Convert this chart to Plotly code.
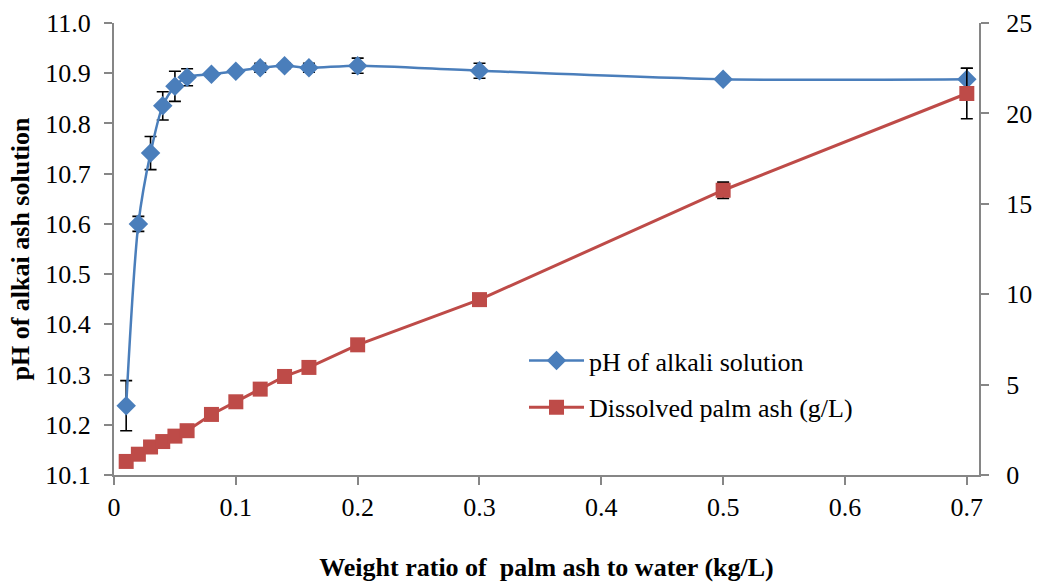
import plotly.graph_objects as go

ratio = [0.01, 0.02, 0.03, 0.04, 0.05, 0.06, 0.08, 0.10, 0.12, 0.14, 0.16, 0.20, 0.30, 0.50, 0.70]
ph = [10.238, 10.600, 10.741, 10.835, 10.874, 10.892, 10.898, 10.904, 10.911, 10.915, 10.911, 10.915, 10.905, 10.888, 10.888]
ph_err = [0.050, 0.015, 0.033, 0.028, 0.030, 0.017, 0.004, 0.005, 0.009, 0.006, 0.009, 0.015, 0.015, 0.004, 0.022]
ash = [0.75, 1.15, 1.55, 1.85, 2.15, 2.45, 3.35, 4.05, 4.75, 5.45, 5.95, 7.20, 9.70, 15.75, 21.10]
ash_err = [0.05, 0.05, 0.05, 0.05, 0.05, 0.05, 0.05, 0.05, 0.05, 0.05, 0.05, 0.10, 0.30, 0.45, 1.40]

BLUE = "#4A7EBB"
RED = "#BE4B48"
AX = "#868686"
FONT = "Liberation Serif"
FS = 26

fig = go.Figure()
fig.add_trace(go.Scatter(
    x=ratio, y=ph, name="pH of alkali solution", mode="lines+markers",
    line=dict(color=BLUE, width=2.5, shape="spline", smoothing=0.8),
    marker=dict(symbol="diamond", size=15, color=BLUE),
    error_y=dict(type="data", array=ph_err, color="black", thickness=1.6, width=6),
    legendgroup="a", yaxis="y",
))
fig.add_trace(go.Scatter(
    x=ratio, y=ash, name="Dissolved palm ash (g/L)", mode="lines+markers",
    line=dict(color=RED, width=3),
    marker=dict(symbol="square", size=15, color=RED),
    error_y=dict(type="data", array=ash_err, color="black", thickness=1.6, width=6),
    legendgroup="b", yaxis="y2",
))


def axcommon(standoff=0):
    return dict(showline=True, linecolor=AX, linewidth=2, ticks="outside",
                tickcolor=AX, ticklen=8, tickwidth=2, showgrid=False, zeroline=False,
                ticklabelstandoff=standoff,
                tickfont=dict(family=FONT, size=FS, color="black"), automargin=False)


fig.update_layout(
    width=1043, height=582,
    margin=dict(l=114, r=64, t=23, b=107),
    paper_bgcolor="white", plot_bgcolor="white",
    font=dict(family=FONT, size=FS, color="black"),
    showlegend=True,
    legend=dict(x=0.474, y=0.305, xanchor="left", yanchor="top",
                bgcolor="rgba(0,0,0,0)", tracegroupgap=10, itemwidth=55,
                font=dict(family=FONT, size=FS, color="black")),
    xaxis=dict(range=[0, 0.71], tickvals=[0, 0.1, 0.2, 0.3, 0.4, 0.5, 0.6, 0.7],
               ticktext=["0", "0.1", "0.2", "0.3", "0.4", "0.5", "0.6", "0.7"],
               title=dict(text="<b>Weight ratio of  palm ash to water (kg/L)</b>", standoff=38,
                          font=dict(family=FONT, size=FS, color="black")),
               **axcommon(0)),
    yaxis=dict(range=[10.1, 11.0], dtick=0.1, tickformat=".1f",
               title=dict(text="<b>pH of alkai ash solution</b>", standoff=8,
                          font=dict(family=FONT, size=FS, color="black")),
               **axcommon(8)),
    yaxis2=dict(range=[0, 25], dtick=5, overlaying="y", side="right", **axcommon(12)),
)

fig.write_html("out.html")
